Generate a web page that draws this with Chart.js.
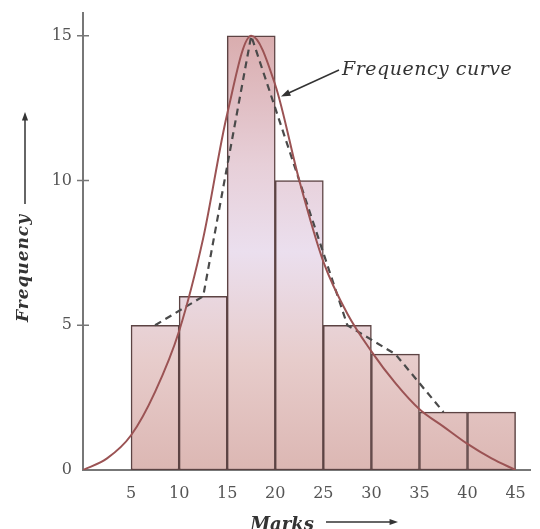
<!DOCTYPE html>
<html>
<head>
<meta charset="utf-8">
<script src="https://cdn.jsdelivr.net/npm/chart.js@4"></script>
<style>
  html, body { margin: 0; padding: 0; background: #fff; }
  #wrap { width: 540px; height: 529px; }
</style>
</head>
<body>
<div id="wrap"><canvas id="chart"></canvas></div>
<script>
// class intervals (mid points) and frequencies
const classMids = [7.5, 12.5, 17.5, 22.5, 27.5, 32.5, 37.5, 42.5];
const frequencies = [5, 6, 15, 10, 5, 4, 2, 2];

// frequency polygon (dashed)
const polygonX = [7.5, 12.5, 17.5, 22.5, 27.5, 32.5, 37.5];
const polygonY = [5, 6, 15, 10, 5, 4, 2];

// smoothed frequency curve
const curveX = [0, 2.5, 5, 7.5, 10, 12.5, 15, 17.5, 20, 22.5, 25, 27.5, 30, 32.5, 35, 37.5, 40, 42.5, 45];
const curveY = [0, 0.4, 1.2, 2.7, 4.8, 8.0, 12.3, 15, 13.3, 10, 7.2, 5.4, 4.1, 3, 2.1, 1.5, 0.9, 0.4, 0];

const xTicks = [5, 10, 15, 20, 25, 30, 35, 40, 45];
const yTicks = [0, 5, 10, 15];

const SERIF = '"DejaVu Serif", "Liberation Serif", serif';

function barFill(context) {
  const area = context.chart.chartArea;
  if (!area) return '#e6cdd0';
  const g = context.chart.ctx.createLinearGradient(0, area.top + 20, 0, area.bottom);
  g.addColorStop(0, '#d9acad');
  g.addColorStop(0.3, '#e7cfd8');
  g.addColorStop(0.5, '#ebdfee');
  g.addColorStop(0.75, '#e7cccb');
  g.addColorStop(1, '#dcb7b3');
  return g;
}

function arrow(ctx, x1, y1, x2, y2, head) {
  const a = Math.atan2(y2 - y1, x2 - x1);
  ctx.beginPath();
  ctx.moveTo(x1, y1);
  ctx.lineTo(x2 - Math.cos(a) * head * 0.6, y2 - Math.sin(a) * head * 0.6);
  ctx.stroke();
  ctx.beginPath();
  ctx.moveTo(x2, y2);
  ctx.lineTo(x2 - head * Math.cos(a - 0.35), y2 - head * Math.sin(a - 0.35));
  ctx.lineTo(x2 - head * Math.cos(a + 0.35), y2 - head * Math.sin(a + 0.35));
  ctx.closePath();
  ctx.fill();
}

// tick crosses, titles and the annotation
const decorations = {
  id: 'decorations',
  afterDraw(chart) {
    const ctx = chart.ctx;
    const xs = chart.scales.x, ys = chart.scales.y;
    const x0 = xs.getPixelForValue(0);
    ctx.save();
    ctx.strokeStyle = '#777';
    ctx.lineWidth = 1.5;
    yTicks.slice(1).forEach(v => {
      const py = ys.getPixelForValue(v);
      ctx.beginPath();
      ctx.moveTo(x0 - 6, py);
      ctx.lineTo(x0 + 6, py);
      ctx.stroke();
    });

    ctx.fillStyle = '#333';
    ctx.strokeStyle = '#333';
    ctx.lineWidth = 1.5;

    // y title
    ctx.save();
    ctx.translate(24, 268);
    ctx.rotate(-Math.PI / 2);
    ctx.font = 'italic bold 17px ' + SERIF;
    ctx.letterSpacing = '1px';
    ctx.textAlign = 'center';
    ctx.textBaseline = 'middle';
    ctx.fillText('Frequency', 0, 0);
    ctx.restore();
    arrow(ctx, 25, 204, 25, 112, 9);

    // x title
    ctx.font = 'italic bold 18px ' + SERIF;
    ctx.textAlign = 'center';
    ctx.textBaseline = 'alphabetic';
    ctx.fillText('Marks', 282, 530);
    arrow(ctx, 326, 522, 398, 522, 9);

    // annotation
    ctx.font = 'italic 19px ' + SERIF;
    ctx.letterSpacing = '0.5px';
    ctx.textAlign = 'left';
    ctx.fillText('Frequency curve', 342, 75);
    ctx.letterSpacing = '0px';
    const tx = xs.getPixelForValue(20.6), ty = ys.getPixelForValue(12.9);
    arrow(ctx, 339, 70, tx, ty, 10);
    ctx.restore();
  }
};

new Chart(document.getElementById('chart'), {
  data: {
    datasets: [
      {
        type: 'line',
        label: 'Frequency curve',
        data: curveX.map((x, i) => ({ x: x, y: curveY[i] })),
        borderColor: '#9b5354',
        borderWidth: 2,
        pointRadius: 0,
        cubicInterpolationMode: 'monotone',
        order: 0
      },
      {
        type: 'line',
        label: 'Frequency polygon',
        data: polygonX.map((x, i) => ({ x: x, y: polygonY[i] })),
        borderColor: '#4a4a4a',
        borderWidth: 2.2,
        borderDash: [7, 5],
        pointRadius: 0,
        tension: 0,
        order: 0
      },
      {
        type: 'bar',
        label: 'Frequency',
        data: classMids.map((x, i) => ({ x: x, y: frequencies[i] })),
        backgroundColor: barFill,
        borderColor: '#5c4343',
        borderWidth: 1.5,
        borderSkipped: false,
        barPercentage: 1,
        categoryPercentage: 1,
        order: 1
      }
    ]
  },
  options: {
    responsive: true,
    maintainAspectRatio: false,
    animation: false,
    layout: { padding: { left: 0, right: 10, top: 12, bottom: 0 } },
    plugins: {
      legend: { display: false },
      tooltip: { enabled: false }
    },
    scales: {
      x: {
        type: 'linear',
        offset: false,
        min: 0,
        max: 46.5,
        afterFit: s => { s.height = 59; },
        afterBuildTicks: s => { s.ticks = xTicks.map(v => ({ value: v })); },
        grid: { display: false },
        border: { display: true, color: '#777', width: 2 },
        ticks: {
          color: '#555',
          font: { family: SERIF, size: 16 },
          padding: 6,
          maxRotation: 0
        }
      },
      y: {
        type: 'linear',
        min: 0,
        max: 15.8,
        afterFit: s => { s.width = 83; },
        afterBuildTicks: s => { s.ticks = yTicks.map(v => ({ value: v })); },
        grid: { display: false },
        border: { display: true, color: '#777', width: 2 },
        ticks: {
          color: '#555',
          font: { family: SERIF, size: 16 },
          padding: 3
        }
      }
    }
  },
  plugins: [decorations]
});
</script>
</body>
</html>
